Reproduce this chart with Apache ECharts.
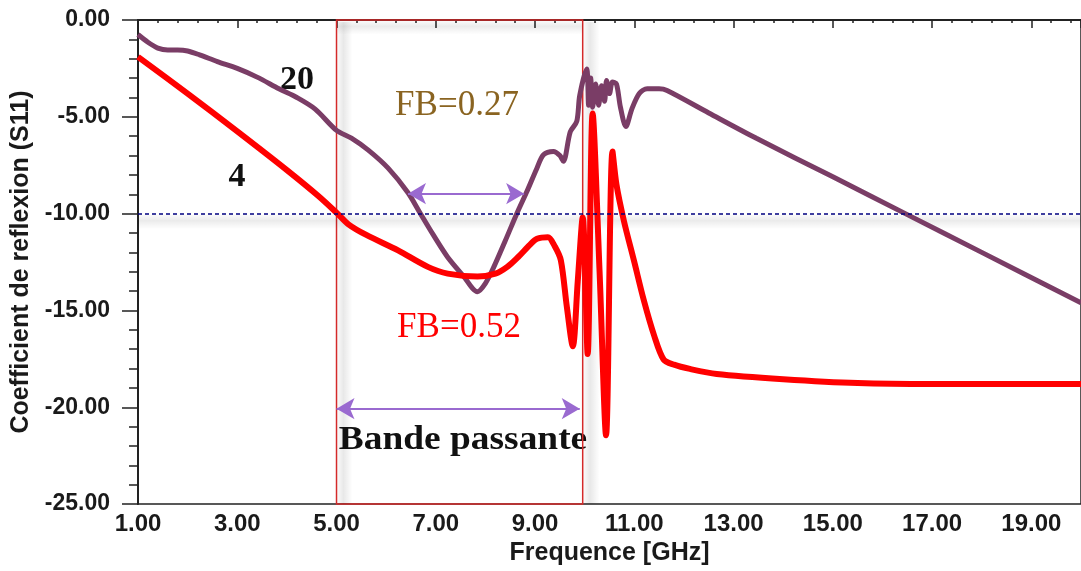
<!DOCTYPE html>
<html><head><meta charset="utf-8">
<script src="https://cdn.jsdelivr.net/npm/echarts@6/dist/echarts.min.js"></script>
<style>html,body{margin:0;padding:0;background:#fff}#c{width:1081px;height:571px}</style>
</head><body><div id="c"></div>
<script>
// Curve "20" (purple)
const freq20 = [1.0, 1.2, 1.4, 1.6, 1.8, 2.0, 2.24, 2.6, 3.0, 3.4, 3.84, 4.2, 4.57, 5.0, 5.3, 5.64, 6.04, 6.44, 6.68, 6.95, 7.24, 7.55, 7.84, 8.0, 8.17, 8.4, 8.64, 8.84, 9.04, 9.17, 9.37, 9.5, 9.57, 9.71, 9.84, 9.9, 10.04, 10.08, 10.12, 10.16, 10.22, 10.28, 10.34, 10.4, 10.44, 10.5, 10.56, 10.64, 10.72, 10.83, 10.95, 11.1, 11.26, 11.5, 11.66, 12.5, 13.46, 15.0, 16.5, 18.0, 20.0];
const s11_20  = [-0.75, -1.15, -1.45, -1.55, -1.55, -1.6, -1.8, -2.15, -2.5, -2.95, -3.55, -4.0, -4.6, -5.7, -6.1, -6.72, -7.65, -8.92, -9.95, -11.1, -12.25, -13.2, -14.03, -13.6, -12.75, -11.4, -9.95, -8.83, -7.64, -6.96, -6.79, -7.0, -7.3, -5.77, -5.24, -3.9, -2.53, -4.4, -3.0, -4.5, -3.3, -4.4, -3.4, -4.2, -3.13, -3.8, -3.2, -3.3, -4.5, -5.5, -4.6, -3.8, -3.55, -3.55, -3.64, -4.8, -6.11, -8.1, -10.05, -12.0, -14.6];
// Curve "4" (red)
const freq4 = [1.0, 2.0, 3.0, 4.0, 4.64, 5.0, 5.24, 5.6, 6.24, 6.84, 7.24, 7.84, 8.2, 8.44, 8.66, 8.9, 9.04, 9.26, 9.4, 9.52, 9.64, 9.76, 9.86, 9.96, 10.06, 10.16, 10.3, 10.43, 10.56, 10.64, 10.79, 11.0, 11.19, 11.4, 11.59, 11.8, 12.12, 12.66, 14.0, 15.5, 17.0, 20.0];
const s11_4  = [-1.9, -3.8, -5.75, -7.75, -9.1, -9.95, -10.55, -11.1, -11.9, -12.75, -13.1, -13.25, -13.1, -12.75, -12.24, -11.6, -11.3, -11.22, -11.7, -12.41, -14.8, -16.85, -13.5, -10.2, -17.25, -4.83, -13.0, -21.45, -6.79, -8.5, -10.37, -12.5, -14.46, -16.3, -17.53, -17.8, -18.02, -18.28, -18.55, -18.75, -18.8, -18.8];

const threshold = -10;
const band = [5.0, 9.96];
const arrowFB20 = [6.44, 8.78, -8.97];
const arrowBand = [5.0, 9.9, -20.07];

const pairs = (xs, ys) => xs.map((x, i) => [x, ys[i]]);

const chart = echarts.init(document.getElementById('c'), null, {renderer: 'canvas'});
const labelFont = {fontFamily: 'Liberation Sans', fontWeight: 'bold', color: '#1a1a1a'};
const shadeH = {type: 'linear', x: 0, y: 0, x2: 1, y2: 0, colorStops: [
  {offset: 0, color: 'rgba(0,0,0,0.02)'}, {offset: 0.4, color: 'rgba(0,0,0,0.09)'}, {offset: 1, color: 'rgba(0,0,0,0)'}]};
const shadeV = {type: 'linear', x: 0, y: 0, x2: 0, y2: 1, colorStops: [
  {offset: 0, color: 'rgba(0,0,0,0.02)'}, {offset: 0.4, color: 'rgba(0,0,0,0.08)'}, {offset: 1, color: 'rgba(0,0,0,0)'}]};
const arrowStyle = {color: '#9a6ad0', type: 'solid', width: 2};
chart.setOption({
  animation: false,
  backgroundColor: '#fff',
  grid: {left: 138, top: 20, width: 948, height: 489, show: true, borderColor: '#222', borderWidth: 1.5, backgroundColor: 'transparent'},
  xAxis: {
    type: 'value', min: 1, max: 20, interval: 2,
    name: 'Frequence [GHz]', nameLocation: 'middle', nameGap: 27,
    nameTextStyle: Object.assign({fontSize: 25}, labelFont),
    axisLine: {lineStyle: {color: '#222', width: 2}},
    axisTick: {show: true, length: 8, lineStyle: {color: '#222', width: 1.5}},
    minorTick: {show: true, splitNumber: 5, length: 3, lineStyle: {color: '#222', width: 1.5}},
    splitLine: {show: false},
    axisLabel: Object.assign({fontSize: 24, margin: 8, showMaxLabel: false, formatter: v => v.toFixed(2)}, labelFont)
  },
  yAxis: {
    type: 'value', min: -25, max: 0, interval: 5,
    name: 'Coefficient de reflexion (S11)', nameLocation: 'middle', nameGap: 104, nameRotate: 90,
    nameTextStyle: Object.assign({fontSize: 25}, labelFont),
    axisLine: {lineStyle: {color: '#222', width: 2}},
    axisTick: {show: true, length: 16, lineStyle: {color: '#222', width: 1.5}},
    minorTick: {show: true, splitNumber: 5, length: 9, lineStyle: {color: '#222', width: 1.5}},
    splitLine: {show: false},
    axisLabel: Object.assign({fontSize: 23, margin: 28, formatter: v => v.toFixed(2)}, labelFont)
  },
  series: [
    {type: 'line', name: '20', data: pairs(freq20, s11_20), showSymbol: false, symbol: 'none', z: 3, smooth: 0.3,
     lineStyle: {color: '#7a3d66', width: 5}},
    {type: 'line', name: '4', data: pairs(freq4, s11_4), showSymbol: false, symbol: 'none', z: 3, smooth: 0.3,
     lineStyle: {color: '#ff0000', width: 6}},
    {type: 'line', name: 'annot', data: [], z: 5, silent: true,
     markArea: {silent: true, itemStyle: {color: 'rgba(0,0,0,0)', borderColor: '#d42a2a', borderWidth: 1.5},
       data: [
         [{coord: [band[0], 0.1]}, {coord: [band[1], -25]}],
         [{coord: [band[0] + 0.02, -0.05], itemStyle: {color: shadeV, borderWidth: 0}}, {coord: [band[1], -0.75]}],
         [{coord: [band[0] + 0.02, -0.1], itemStyle: {color: shadeH, borderWidth: 0}}, {coord: [band[0] + 0.32, -25]}],
         [{coord: [band[1] + 0.02, -0.1], itemStyle: {color: shadeH, borderWidth: 0}}, {coord: [band[1] + 0.34, -25]}],
         [{coord: [1, threshold - 0.06], itemStyle: {color: shadeV, borderWidth: 0}}, {coord: [20, threshold - 0.8]}]
       ]},
     markLine: {silent: true, animation: false, label: {show: false},
       data: [
         [{coord: [1, threshold], symbol: 'none'}, {coord: [20, threshold], symbol: 'none',
           lineStyle: {color: '#000080', type: [4, 3], width: 1.5}}],
         [{coord: [arrowFB20[0], arrowFB20[2]], symbol: 'arrow', symbolSize: [16, 18]}, {coord: [arrowFB20[1], arrowFB20[2]], symbol: 'arrow', symbolSize: [16, 18],
           lineStyle: arrowStyle}],
         [{coord: [arrowBand[0], arrowBand[2]], symbol: 'arrow', symbolSize: [16, 18]}, {coord: [arrowBand[1], arrowBand[2]], symbol: 'arrow', symbolSize: [16, 18],
           lineStyle: arrowStyle}]
       ]}
    }
  ],
  graphic: [
    {type: 'text', x: 297, y: 80, style: {text: '20', font: 'bold 34px "Liberation Serif"', fill: '#111', textAlign: 'center', textVerticalAlign: 'middle'}},
    {type: 'text', x: 237, y: 177, style: {text: '4', font: 'bold 34px "Liberation Serif"', fill: '#111', textAlign: 'center', textVerticalAlign: 'middle'}},
    {type: 'text', x: 457, y: 106, style: {text: 'FB=0.27', font: '35px "Liberation Serif"', fill: '#8a6421', textAlign: 'center', textVerticalAlign: 'middle'}},
    {type: 'text', x: 459, y: 328, style: {text: 'FB=0.52', font: '35px "Liberation Serif"', fill: '#ff0000', textAlign: 'center', textVerticalAlign: 'middle'}},
    {type: 'text', x: 463, y: 440, scaleX: 1.1, style: {text: 'Bande passante', font: 'bold 34px "Liberation Serif"', fill: '#111', textAlign: 'center', textVerticalAlign: 'middle'}}
  ]
});
</script>
</body></html>
